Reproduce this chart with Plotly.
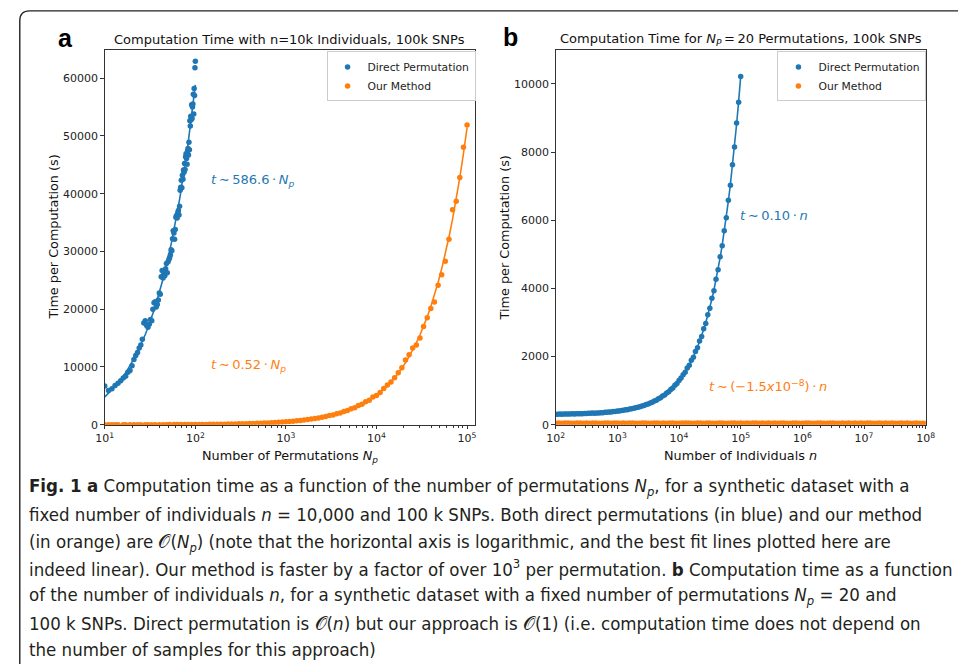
import numpy as np
import plotly.graph_objects as go

# ---------------- data ----------------
# Panel a: n = 10k individuals, 100k SNPs; x = number of permutations
blue_a_np = [10, 11, 12, 13, 14, 15, 16, 17, 18, 19, 20, 21, 22, 23, 24, 25, 26, 27, 28, 29,
             30, 31, 32, 33, 34, 35, 36, 37, 38, 39, 40, 41, 42, 43, 44, 45, 46, 47, 48, 49,
             50, 51, 52, 53, 54, 55, 56, 57, 58, 59, 60, 61, 62, 63, 64, 65, 66, 67, 68, 69,
             70, 71, 72, 73, 74, 75, 76, 77, 78, 79, 80, 81, 82, 83, 84, 85, 86, 87, 88, 89,
             90, 91, 92, 93, 94, 95, 96, 97, 98, 99, 100]
blue_a_t = [6700, 5950, 6250, 6800, 7200, 7600, 8100, 8400, 9100, 9400,
            10200, 11300, 12000, 12500, 13300, 13800, 14800, 17600, 18000, 17200,
            16900, 17400, 18200, 18000, 20000, 21100, 21300, 20400, 20800, 21600,
            22800, 22600, 25600, 26700, 25400, 26200, 25800, 27000, 27900, 26300,
            28200, 28600, 28900, 29400, 30300, 30100, 32200, 33600, 33200, 32100,
            33800, 35900, 36200, 35800, 36700, 37100, 36300, 37800, 40600, 41100,
            42300, 41000, 43200, 42500, 44100, 43700, 45200, 44200, 46400, 46900,
            46100, 45100, 47400, 47800, 46700, 48900, 47600, 52600, 51700, 53400,
            52800, 55400, 53000, 55000, 55500, 57200, 53800, 58200, 57000, 61800, 62900]

orange_a_np = [10, 11, 12, 13, 14, 16, 17, 19, 21, 23, 25, 28, 30, 33, 36, 40, 44, 48, 52, 58, 63, 69, 76, 83, 91,
               100, 110, 120, 132, 145, 158, 174, 191, 209, 229, 251, 275, 302, 331, 363, 398, 437, 479, 525, 575,
               631, 692, 759, 832, 912,
               1000, 1096, 1202, 1318, 1445, 1585, 1738, 1905, 2089, 2291, 2512, 2754, 3020, 3311, 3631, 3981,
               4365, 4786, 5248, 5754, 6310, 6918, 7586, 8318, 9120,
               10000, 10965, 12023, 13183, 14454, 15849, 17378, 19055, 20893, 22909, 25119, 27542, 30200, 33113,
               36308, 39811, 43652, 47863, 52481, 57544, 63096, 69183, 75858, 83176, 91201, 100000]
orange_a_t = [5.4, 5.6, 6.3, 6.8, 7.2, 8.4, 8.8, 9.9, 10.9, 12.0, 13.1, 14.5, 15.6, 17.2, 18.7, 20.8, 22.9, 25.0,
              27.0, 30.2, 32.8, 35.9, 39.5, 43.2, 47.3,
              52, 57, 62, 69, 75, 82, 90, 99, 109, 119, 130, 143, 157, 172, 189, 207, 227, 249, 273, 299,
              328, 360, 395, 433, 474,
              525, 566, 630, 680, 758, 818, 912, 985, 1095, 1180, 1318, 1420, 1590, 1700, 1915, 2050,
              2300, 2460, 2760, 2950, 3320, 3540, 3990, 4260, 4800,
              5050, 5600, 6300, 6900, 7400, 8150, 9000, 9850, 11200, 12100, 13300, 13800, 15000, 17000,
              18540, 20140, 21230, 24140, 25960, 28300, 32100, 37200, 38700, 42800, 48050, 51900]

# Panel b: Np = 20 permutations, 100k SNPs; x = number of individuals
blue_b_n = [100, 108, 117, 126, 136, 147, 158, 171, 185, 200, 215, 233, 251, 271, 293, 316, 341, 369, 398, 430,
            464, 501, 541, 584, 631, 681, 736, 794, 858, 926,
            1000, 1080, 1166, 1259, 1359, 1468, 1585, 1711, 1848, 1995, 2154, 2326, 2512, 2712, 2929, 3162,
            3415, 3687, 3981, 4299, 4642, 5012, 5412, 5843, 6310, 6813, 7356, 7943, 8577, 9261,
            10000, 10798, 11659, 12589, 13594, 14678, 15849, 17113, 18478, 19953, 21544, 23263, 25119, 27123,
            29286, 31623, 34145, 36869, 39811, 42987, 46416, 50119, 54117, 58434, 63096, 68129, 73564, 79433,
            85770, 92612, 100000]
blue_b_t = [312, 308, 313, 311, 316, 313, 318, 315, 320, 318, 323, 321, 327, 325, 331, 329, 336, 335, 342, 341,
            349, 347, 356, 356, 365, 365, 376, 377, 388, 390,
            402, 405, 418, 423, 438, 443, 460, 467, 486, 496, 516, 528, 552, 566, 594, 611, 642, 662, 698, 722,
            765, 792, 842, 873, 931, 968, 1035, 1080, 1156, 1210,
            1300, 1372, 1468, 1540, 1665, 1745, 1890, 1980, 2150, 2260, 2460, 2590, 2815, 2970, 3230, 3420,
            3710, 3935, 4270, 4545, 4930, 5250, 5690, 6075, 6590, 7030, 7630, 8150, 8850, 9460, 10218]

orange_b_n = [1.0e2, 1.122e2, 1.259e2, 1.413e2, 1.585e2, 1.778e2, 1.995e2, 2.239e2, 2.512e2, 2.818e2,
              3.162e2, 3.548e2, 3.981e2, 4.467e2, 5.012e2, 5.623e2, 6.310e2, 7.079e2, 7.943e2, 8.913e2,
              1.0e3, 1.122e3, 1.259e3, 1.413e3, 1.585e3, 1.778e3, 1.995e3, 2.239e3, 2.512e3, 2.818e3,
              3.162e3, 3.548e3, 3.981e3, 4.467e3, 5.012e3, 5.623e3, 6.310e3, 7.079e3, 7.943e3, 8.913e3,
              1.0e4, 1.122e4, 1.259e4, 1.413e4, 1.585e4, 1.778e4, 1.995e4, 2.239e4, 2.512e4, 2.818e4,
              3.162e4, 3.548e4, 3.981e4, 4.467e4, 5.012e4, 5.623e4, 6.310e4, 7.079e4, 7.943e4, 8.913e4,
              1.0e5, 1.122e5, 1.259e5, 1.413e5, 1.585e5, 1.778e5, 1.995e5, 2.239e5, 2.512e5, 2.818e5,
              3.162e5, 3.548e5, 3.981e5, 4.467e5, 5.012e5, 5.623e5, 6.310e5, 7.079e5, 7.943e5, 8.913e5,
              1.0e6, 1.122e6, 1.259e6, 1.413e6, 1.585e6, 1.778e6, 1.995e6, 2.239e6, 2.512e6, 2.818e6,
              3.162e6, 3.548e6, 3.981e6, 4.467e6, 5.012e6, 5.623e6, 6.310e6, 7.079e6, 7.943e6, 8.913e6,
              1.0e7, 1.122e7, 1.259e7, 1.413e7, 1.585e7, 1.778e7, 1.995e7, 2.239e7, 2.512e7, 2.818e7,
              3.162e7, 3.548e7, 3.981e7, 4.467e7, 5.012e7, 5.623e7, 6.310e7, 7.079e7, 7.943e7, 8.913e7,
              1.0e8]
orange_b_t = [48, 50, 47, 49, 51, 48, 46, 50, 49, 47, 52, 48, 49, 50, 47, 48, 51, 49, 46, 50,
              49, 47, 50, 48, 52, 49, 47, 48, 50, 51, 48, 46, 49, 50, 48, 51, 47, 49, 50, 48,
              47, 50, 49, 51, 48, 47, 50, 49, 48, 52, 49, 47, 48, 50, 49, 46, 48, 51, 49, 48,
              50, 47, 49, 48, 51, 49, 47, 50, 48, 49, 47, 50, 48, 49, 51, 47, 48, 50, 49, 47,
              48, 50, 49, 47, 48, 51, 49, 48, 47, 50, 49, 48, 46, 50, 48, 49, 47, 50, 48, 49,
              47, 49, 50, 48, 47, 49, 48, 50, 47, 49, 48, 46, 49, 48, 50, 47, 48, 49, 47, 48,
              48]

# axis ticks
ya_ticks = [0, 10000, 20000, 30000, 40000, 50000, 60000]
ya_text = ["0", "10000", "20000", "30000", "40000", "50000", "60000"]
yb_ticks = [0, 2000, 4000, 6000, 8000, 10000]
yb_text = ["0", "2000", "4000", "6000", "8000", "10000"]
xa_ticks = [1e1, 1e2, 1e3, 1e4, 1e5]
xa_text = ["10<sup>1</sup>", "10<sup>2</sup>", "10<sup>3</sup>", "10<sup>4</sup>", "10<sup>5</sup>"]
xb_ticks = [1e2, 1e3, 1e4, 1e5, 1e6, 1e7, 1e8]
xb_text = ["10<sup>2</sup>", "10<sup>3</sup>", "10<sup>4</sup>", "10<sup>5</sup>",
           "10<sup>6</sup>", "10<sup>7</sup>", "10<sup>8</sup>"]

caption_lines = [
    "<b>Fig. 1</b> <b>a</b> Computation time as a function of the number of permutations <i>N</i><sub><i>p</i></sub>, for a synthetic dataset with a",
    "fixed number of individuals <i>n</i> = 10,000 and 100 k SNPs. Both direct permutations (in blue) and our method",
    "(in orange) are 𝒪(<i>N</i><sub><i>p</i></sub>) (note that the horizontal axis is logarithmic, and the best fit lines plotted here are",
    "indeed linear). Our method is faster by a factor of over 10<sup>3</sup> per permutation. <b>b</b> Computation time as a function",
    "of the number of individuals <i>n</i>, for a synthetic dataset with a fixed number of permutations <i>N</i><sub><i>p</i></sub> = 20 and",
    "100 k SNPs. Direct permutation is 𝒪(<i>n</i>) but our approach is 𝒪(1) (i.e. computation time does not depend on",
    "the number of samples for this approach)",
]

# ---------------- figure ----------------
W, H = 958, 664
def px(x):
    return x / W
def py(y):
    return 1 - y / H

BLUE = "#1f77b4"
ORANGE = "#ff7f0e"
AX = "#333333"
FONT = "DejaVu Sans"

def linfit(x, y):
    x = np.asarray(x, float)
    y = np.asarray(y, float)
    k, b = np.polyfit(x, y, 1)
    return x, k * x + b

fig = go.Figure()

mk = dict(size=5.5, line=dict(width=0))
fig.add_trace(go.Scatter(x=blue_a_np, y=blue_a_t, mode="markers", marker=dict(color=BLUE, **mk),
                         name="Direct Permutation", xaxis="x", yaxis="y", legend="legend"))
fig.add_trace(go.Scatter(x=orange_a_np, y=orange_a_t, mode="markers", marker=dict(color=ORANGE, **mk),
                         name="Our Method", xaxis="x", yaxis="y", legend="legend"))
fx, fy = linfit(blue_a_np, blue_a_t)
fig.add_trace(go.Scatter(x=fx, y=fy, mode="lines", line=dict(color=BLUE, width=1.6),
                         showlegend=False, xaxis="x", yaxis="y", hoverinfo="skip"))
fx, fy = linfit(orange_a_np, orange_a_t)
fig.add_trace(go.Scatter(x=fx, y=fy, mode="lines", line=dict(color=ORANGE, width=1.6),
                         showlegend=False, xaxis="x", yaxis="y", hoverinfo="skip"))

fig.add_trace(go.Scatter(x=blue_b_n, y=blue_b_t, mode="markers", marker=dict(color=BLUE, **mk),
                         name="Direct Permutation", xaxis="x2", yaxis="y2", legend="legend2"))
fig.add_trace(go.Scatter(x=orange_b_n, y=orange_b_t, mode="markers", marker=dict(color=ORANGE, **mk),
                         name="Our Method", xaxis="x2", yaxis="y2", legend="legend2"))
fx, fy = linfit(blue_b_n, blue_b_t)
fig.add_trace(go.Scatter(x=fx, y=fy, mode="lines", line=dict(color=BLUE, width=1.6),
                         showlegend=False, xaxis="x2", yaxis="y2", hoverinfo="skip"))
fx, fy = linfit(orange_b_n, orange_b_t)
fig.add_trace(go.Scatter(x=fx, y=fy, mode="lines", line=dict(color=ORANGE, width=1.6),
                         showlegend=False, xaxis="x2", yaxis="y2", hoverinfo="skip"))

tickfont = dict(family=FONT, size=11, color="#222")
common = dict(showline=True, linecolor=AX, linewidth=1, mirror=True, showgrid=False, zeroline=False,
              ticks="outside", ticklen=3.5, tickwidth=1, tickcolor=AX, tickfont=tickfont)

minor_a = [m * 10 ** d for d in range(1, 5) for m in range(2, 10)]
minor_b = [m * 10 ** d for d in range(2, 8) for m in range(2, 10)]

legfont = dict(family=FONT, size=10.75, color="#222")
fig.update_layout(
    width=W, height=H, autosize=False, margin=dict(l=0, r=0, t=0, b=0),
    paper_bgcolor="white", plot_bgcolor="white",
    xaxis=dict(domain=[px(97.7), px(475)], type="log", range=[1, 5.083], anchor="y",
               tickmode="array", tickvals=xa_ticks, ticktext=xa_text,
               minor=dict(tickmode="array", tickvals=minor_a, ticks="outside", ticklen=2,
                          tickwidth=0.8, tickcolor=AX, showgrid=False), **common),
    yaxis=dict(domain=[py(429.3), py(50.7)], range=[0, 64830], anchor="x",
               tickmode="array", tickvals=ya_ticks, ticktext=ya_text, **common),
    xaxis2=dict(domain=[px(557.7), px(935.3)], type="log", range=[2, 8], anchor="y2",
                tickmode="array", tickvals=xb_ticks, ticktext=xb_text,
                minor=dict(tickmode="array", tickvals=minor_b, ticks="outside", ticklen=2,
                           tickwidth=0.8, tickcolor=AX, showgrid=False), **common),
    yaxis2=dict(domain=[py(429.3), py(50.7)], range=[0, 10990], anchor="x2",
                tickmode="array", tickvals=yb_ticks, ticktext=yb_text, **common),
    legend=dict(x=px(324), y=py(52), xanchor="left", yanchor="top", bgcolor="rgba(255,255,255,0.85)",
                bordercolor="#cccccc", borderwidth=1, font=legfont, tracegroupgap=0),
    legend2=dict(x=px(784), y=py(52), xanchor="left", yanchor="top", bgcolor="rgba(255,255,255,0.85)",
                 bordercolor="#cccccc", borderwidth=1, font=legfont, tracegroupgap=0),
    showlegend=True,
)

ann = []
def add(text, x, y, size, color="#111", xanchor="center", family=FONT, angle=0):
    ann.append(dict(text=text, x=px(x), y=py(y), xref="paper", yref="paper", showarrow=False,
                    xanchor=xanchor, yanchor="middle", textangle=angle,
                    font=dict(family=family, size=size, color=color)))

TS = "\u2009"  # thin space, like matplotlib mathtext spacing
# panel letters
add("<b>a</b>", 57.8, 38, 25, color="#000", family="Liberation Sans")
add("<b>b</b>", 512, 37, 25, color="#000", family="Liberation Sans")
# titles
add("Computation Time with n=10k Individuals, 100k SNPs", 286.4, 40, 13)
add("Computation Time for <i>N</i><sub><i>P</i></sub>" + TS + "=" + TS + "20 Permutations, 100k SNPs",
    746.5, 40, 13)
# axis titles
add("Number of Permutations <i>N</i><sub><i>p</i></sub>", 286.4, 461, 12.8)
add("Number of Individuals <i>n</i>", 746.5, 460, 12.8)
add("Time per Computation (s)", 45, 240, 12.8, angle=-90)
add("Time per Computation (s)", 505, 240, 12.8, angle=-90)
# fit labels
add("<i>t</i>" + TS + "∼" + TS + "586.6" + TS + "·" + TS + "<i>N</i><sub><i>p</i></sub>", 204, 182, 13,
    color=BLUE, xanchor="left")
add("<i>t</i>" + TS + "∼" + TS + "0.52" + TS + "·" + TS + "<i>N</i><sub><i>p</i></sub>", 204, 369, 13,
    color=ORANGE, xanchor="left")
add("<i>t</i>" + TS + "∼" + TS + "0.10" + TS + "·" + TS + "<i>n</i>", 744, 218, 13, color=BLUE, xanchor="left")
add("<i>t</i>" + TS + "∼" + TS + "(−1.5<i>x</i>10<sup>−8</sup>)" + TS + "·" + TS + "<i>n</i>", 712, 390, 13,
    color=ORANGE, xanchor="left")

# caption
cap_y = [492, 520, 549, 574.5, 602.5, 630, 656]
for t, yy in zip(caption_lines, cap_y):
    add(t, 18, yy, 18.5, color="#231f20", xanchor="left",
        family="Liberation Sans Narrow, DejaVu Sans Condensed, Arial Narrow, sans-serif")

fig.update_layout(annotations=ann)

# outer rounded frame
x0, yt = px(11), py(11)
rx, ry = 10 / W, 10 / H
fig.add_shape(type="path", xref="paper", yref="paper",
              path=f"M {x0},-0.05 L {x0},{yt - ry} Q {x0},{yt} {x0 + rx},{yt} L 1.05,{yt}",
              line=dict(color="#222", width=1.4))

fig.write_html("out.html")
